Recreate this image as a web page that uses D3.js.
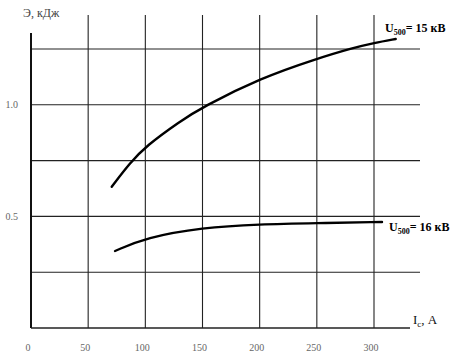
<!DOCTYPE html>
<html>
<head>
<meta charset="utf-8">
<script src="https://cdn.jsdelivr.net/npm/d3@7"></script>
<style>
  body { margin: 0; background: #fff; }
  svg { display: block; font-family: "Liberation Serif", "DejaVu Serif", serif; }
</style>
</head>
<body>
<svg id="chart" width="454" height="360"></svg>
<script>
// x ticks (current, A) and y grid levels (energy, kJ)
const xTicks = [0, 50, 100, 150, 200, 250, 300];
const yGrid = [0.25, 0.5, 0.75, 1.0, 1.25];
const yLabels = [0.5, 1.0];

// U500 = 15 kV curve
const current15 = [70.6, 86.6, 100.6, 130, 150, 201, 249, 281.6, 300, 319];
const energy15 = [0.633, 0.74, 0.815, 0.925, 0.99, 1.12, 1.205, 1.255, 1.277, 1.295];

// U500 = 16 kV curve
const current16 = [73.5, 100.6, 149.6, 200, 249, 307];
const energy16 = [0.345, 0.405, 0.45, 0.465, 0.47, 0.475];

const svg = d3.select("#chart");

const x = d3.scaleLinear().domain([0, 300]).range([31, 374]);
const y = d3.scaleLinear().domain([0, 1.25]).range([328, 49]);

// vertical grid
svg.append("g")
  .selectAll("line")
  .data(xTicks.slice(1))
  .join("line")
  .attr("x1", d => x(d)).attr("x2", d => x(d))
  .attr("y1", 15).attr("y2", y(0))
  .attr("stroke", "#222").attr("stroke-width", 1.1);

// horizontal grid
svg.append("g")
  .selectAll("line")
  .data(yGrid)
  .join("line")
  .attr("x1", x(0)).attr("x2", 420)
  .attr("y1", d => y(d)).attr("y2", d => y(d))
  .attr("stroke", "#222").attr("stroke-width", 1.1);

// axes
svg.append("line")
  .attr("x1", x(0)).attr("x2", x(0))
  .attr("y1", 33).attr("y2", y(0))
  .attr("stroke", "#111").attr("stroke-width", 2);
svg.append("line")
  .attr("x1", x(0)).attr("x2", 410)
  .attr("y1", y(0)).attr("y2", y(0))
  .attr("stroke", "#222").attr("stroke-width", 1.4);

// tick labels
svg.append("g")
  .selectAll("text")
  .data(xTicks)
  .join("text")
  .attr("x", d => x(d) - 3)
  .attr("y", 351)
  .attr("text-anchor", "middle")
  .attr("font-size", 10)
  .attr("fill", "#666")
  .text(d => d);

svg.append("g")
  .selectAll("text")
  .data(yLabels)
  .join("text")
  .attr("x", 18)
  .attr("y", d => y(d))
  .attr("dy", "0.35em")
  .attr("text-anchor", "end")
  .attr("font-size", 10)
  .attr("fill", "#666")
  .text(d => d.toFixed(1));

// axis titles
svg.append("text")
  .attr("x", 23).attr("y", 17)
  .attr("font-size", 12)
  .attr("fill", "#444")
  .text("Э, кДж");

const xt = svg.append("text")
  .attr("x", 413).attr("y", 324)
  .attr("font-size", 13)
  .attr("fill", "#111");
xt.append("tspan").text("I");
xt.append("tspan").attr("font-size", 9).attr("dy", 3).text("с");
xt.append("tspan").attr("dy", -3).text(", A");

// curves
const line = d3.line()
  .x(d => x(d[0]))
  .y(d => y(d[1]))
  .curve(d3.curveBasis);

const curves = [
  { pts: d3.zip(current15, energy15), label: "15 кВ", lx: 385, ly: 32 },
  { pts: d3.zip(current16, energy16), label: "16 кВ", lx: 389, ly: 231 }
];

svg.append("g")
  .selectAll("path")
  .data(curves)
  .join("path")
  .attr("d", d => line(d.pts))
  .attr("fill", "none")
  .attr("stroke", "#000")
  .attr("stroke-width", 2.4)
  .attr("stroke-linecap", "round");

curves.forEach(c => {
  const t = svg.append("text")
    .attr("x", c.lx).attr("y", c.ly)
    .attr("font-size", 12)
    .attr("font-weight", "bold")
    .attr("fill", "#000");
  t.append("tspan").text("U");
  t.append("tspan").attr("font-size", 8).attr("dy", 3).text("500");
  t.append("tspan").attr("dy", -3).text("= " + c.label);
});
</script>
</body>
</html>
